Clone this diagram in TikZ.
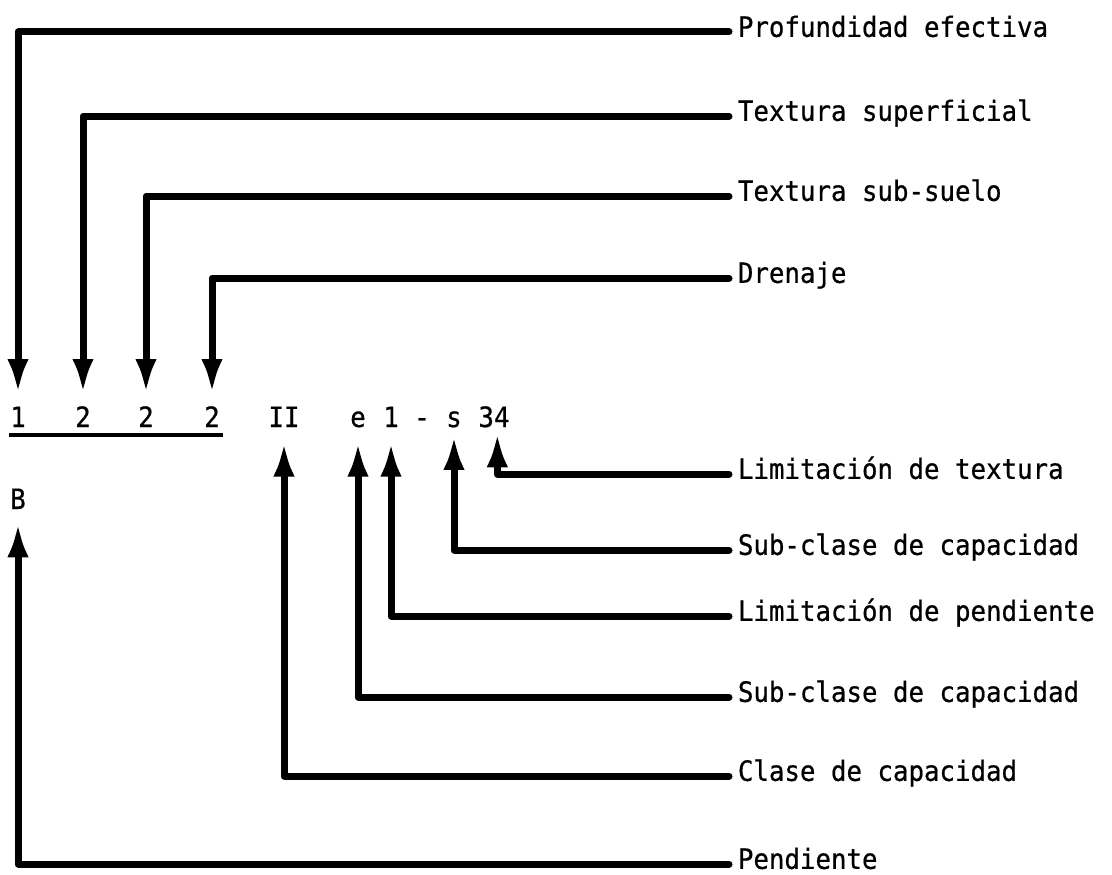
\documentclass[tikz,border=0pt]{standalone}
\usepackage{fontspec}
\newfontfamily\tw[FakeStretch=0.92,FakeBold=0.6]{DejaVu Sans Mono}
\usetikzlibrary{arrows.meta}
\begin{document}
\begin{tikzpicture}[x=0.75pt,y=-0.75pt,
  lab/.style={anchor=west,inner xsep=6.5pt,inner ysep=0pt,font=\tw\fontsize{21}{24}\selectfont,text height=0.73em,text depth=0pt},
  sym/.style={anchor=base,inner sep=0pt,font=\tw\fontsize{21}{24}\selectfont,text height=0.73em,text depth=0pt},
  conn/.style={line width=5.25pt,line join=round,line cap=round,-{Latex[length=26pt,width=16pt]}},
  uline/.style={line width=3pt}]
\useasboundingbox (0,0) rectangle (1112,874);
% formula symbols
\node[sym] (d1) at (18,427) {1};
\node[sym] (d2) at (83,427) {2};
\node[sym] (d3) at (146,427) {2};
\node[sym] (d4) at (212,427) {2};
\node[sym] (II) at (284,427) {II};
\node[sym] (e) at (358,427) {e};
\node[sym] (one) at (391,427) {1};
\node[sym] (dash) at (422,427) {-};
\node[sym] (s) at (454,427) {s};
\node[sym] (n34) at (494,427) {34};
\node[sym] (B) at (18,509) {B};
\draw[uline] ([xshift=-6.75pt,yshift=-6pt]d1.south) -- ([xshift=8pt,yshift=-6pt]d4.south);
% labels
\node[lab] (l1) at (729,32) {Profundidad efectiva};
\node[lab] (l2) at (729,116) {Textura superficial};
\node[lab] (l3) at (729,196) {Textura sub-suelo};
\node[lab] (l4) at (729,278) {Drenaje};
\node[lab] (l5) at (729,474) {Limitación de textura};
\node[lab] (l6) at (729,550) {Sub-clase de capacidad};
\node[lab] (l7) at (729,616) {Limitación de pendiente};
\node[lab] (l8) at (729,697) {Sub-clase de capacidad};
\node[lab] (l9) at (729,776) {Clase de capacidad};
\node[lab] (l10) at (729,864) {Pendiente};
% connectors down
\draw[conn,shorten >=17.5pt] (l1.west) -| (d1.north);
\draw[conn,shorten >=17.5pt] (l2.west) -| (d2.north);
\draw[conn,shorten >=17.5pt] (l3.west) -| (d3.north);
\draw[conn,shorten >=17.5pt] (l4.west) -| (d4.north);
% connectors up
\draw[conn,shorten >=4pt] (l5.west) -| ([xshift=2.5pt]n34.south);
\draw[conn,shorten >=6pt] (l6.west) -| (s.south);
\draw[conn,shorten >=11pt] (l7.west) -| (one.south);
\draw[conn,shorten >=11pt] (l8.west) -| (e.south);
\draw[conn,shorten >=11pt] (l9.west) -| (II.south);
\draw[conn,shorten >=10pt] (l10.west) -| (B.south);
\end{tikzpicture}
\end{document}
